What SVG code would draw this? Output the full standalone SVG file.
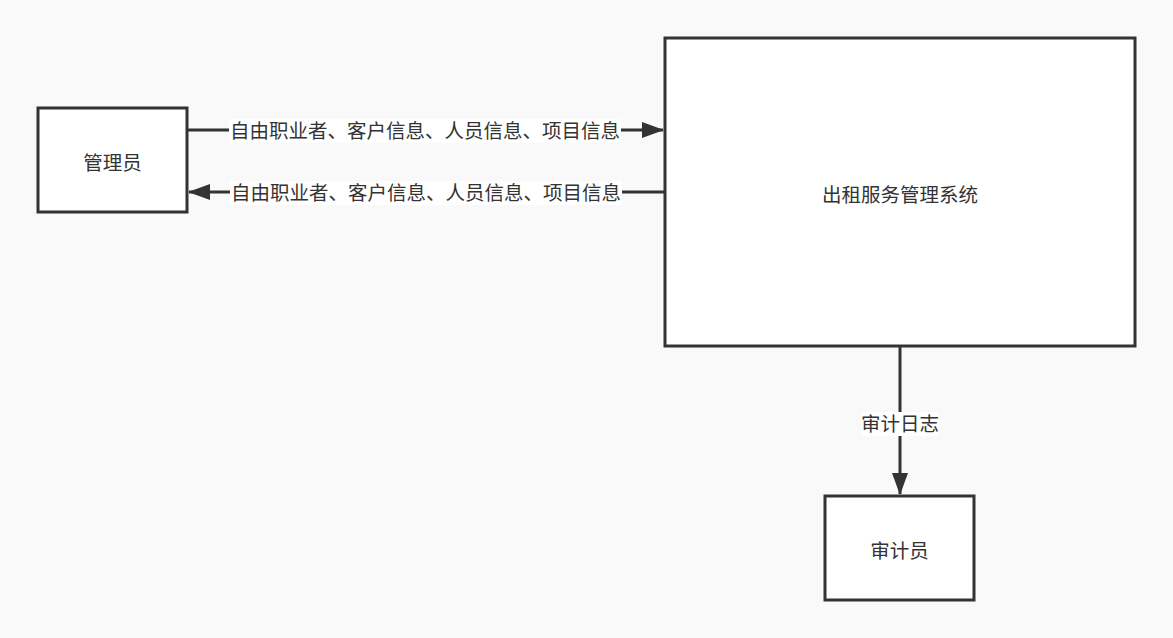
<svg xmlns="http://www.w3.org/2000/svg" width="1173" height="638" viewBox="0 0 1173 638">
<style>
.box{fill:#ffffff;stroke:#333333;stroke-width:3}
.lbl{font-family:"Noto Sans CJK SC","Noto Sans",sans-serif;font-size:19.5px;fill:#333333}
.edge{stroke:#333333;stroke-width:3;fill:none}
.lblbg{fill:#ffffff}
</style>
<defs>
<marker id="arr" viewBox="0 0 22 16" refX="21" refY="8" markerWidth="22" markerHeight="16" markerUnits="userSpaceOnUse" orient="auto">
<path d="M0,0 L22,8 L0,16 Z" fill="#333333"/>
</marker>
</defs>
<rect width="1173" height="638" fill="#f9f9f9"/>
<g id="connectors">
<line class="edge" x1="185" y1="130" x2="663" y2="130" marker-end="url(#arr)"/>
<line class="edge" x1="664" y1="192" x2="189" y2="192" marker-end="url(#arr)"/>
<line class="edge" x1="900" y1="347" x2="900" y2="494" marker-end="url(#arr)"/>
<rect class="lblbg" x="229" y="119" width="392" height="24"/>
<text class="lbl" x="425" y="138" text-anchor="middle">自由职业者、客户信息、人员信息、项目信息</text>
<rect class="lblbg" x="230" y="181" width="392" height="24"/>
<text class="lbl" x="426" y="200" text-anchor="middle">自由职业者、客户信息、人员信息、项目信息</text>
<rect class="lblbg" x="861" y="412" width="78" height="24"/>
<text class="lbl" x="900" y="431" text-anchor="middle">审计日志</text>
</g>
<g id="admin">
<rect class="box" x="38" y="108" width="149" height="104"/>
<text class="lbl" x="112.5" y="170" text-anchor="middle">管理员</text>
</g>
<g id="system">
<rect class="box" x="665" y="38" width="470" height="308"/>
<text class="lbl" x="900" y="202" text-anchor="middle">出租服务管理系统</text>
</g>
<g id="auditor">
<rect class="box" x="825" y="496" width="149" height="104"/>
<text class="lbl" x="899.5" y="558" text-anchor="middle">审计员</text>
</g>
</svg>
